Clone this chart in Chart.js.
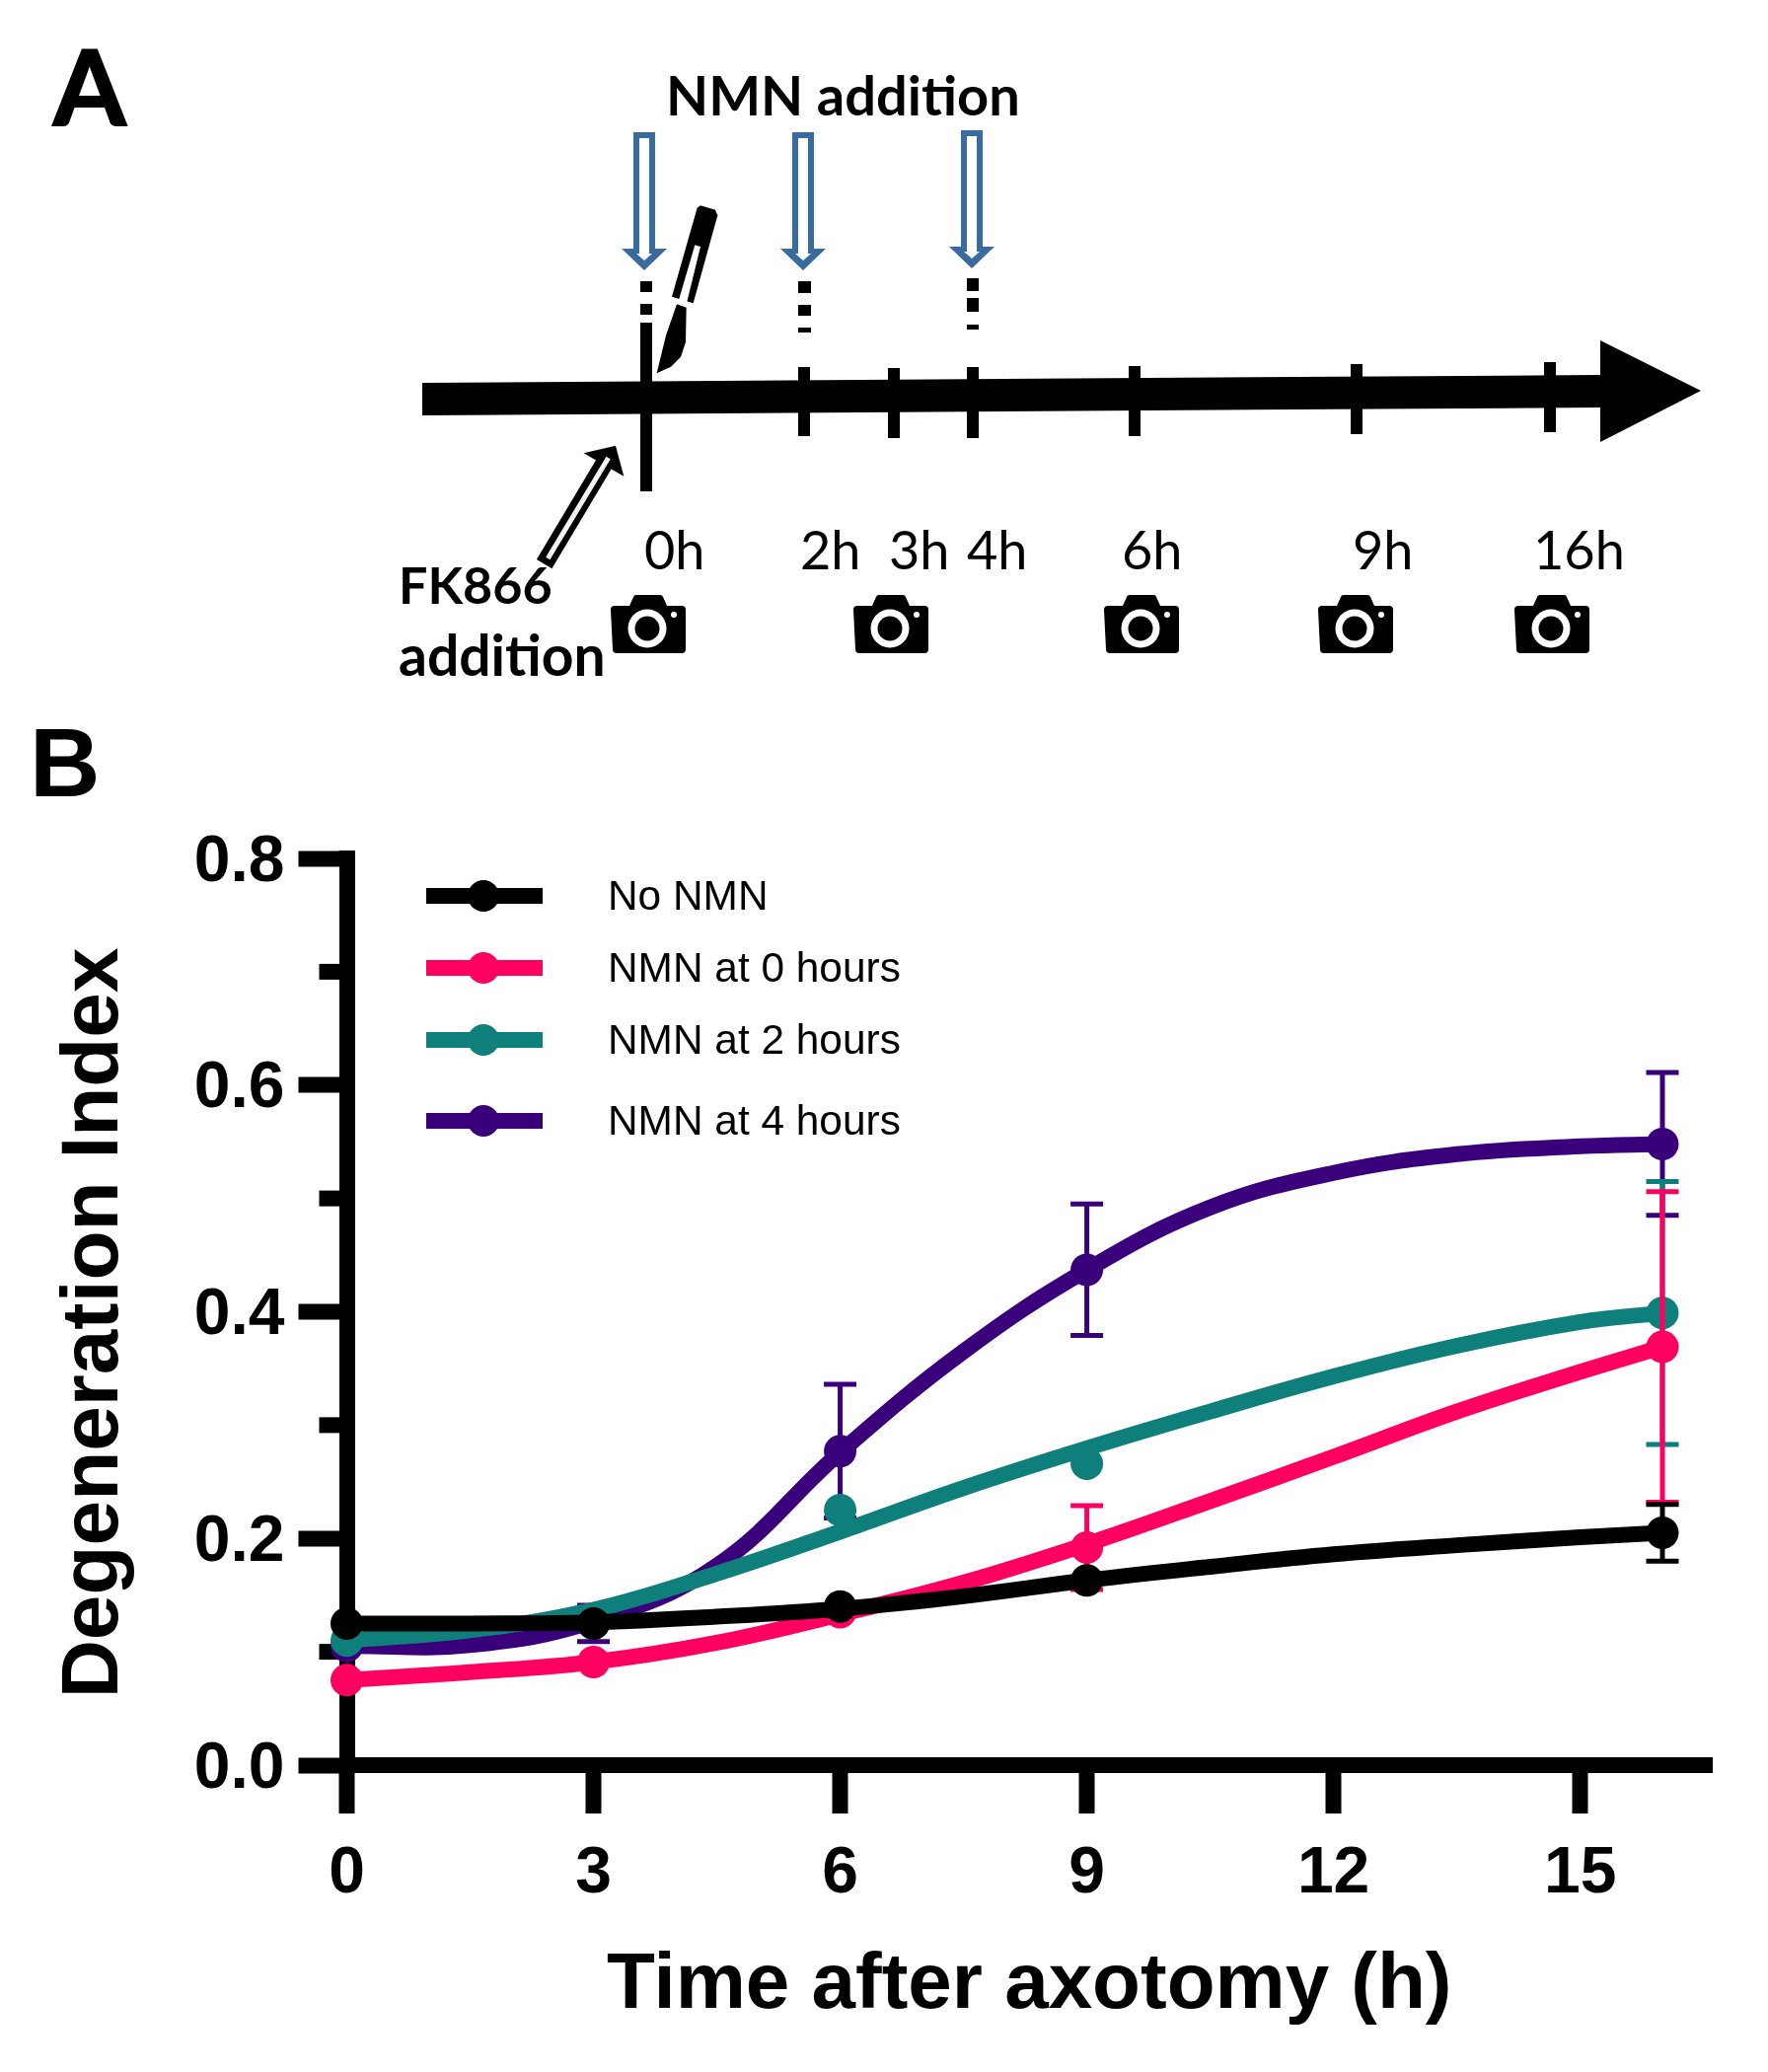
<!DOCTYPE html>
<html>
<head>
<meta charset="utf-8">
<title>Degeneration Index</title>
<script src="https://cdn.jsdelivr.net/npm/chart.js@4"></script>
<style>
  html, body { margin: 0; background: #fff; }
  #wrap { position: relative; width: 1792px; height: 2100px; overflow: hidden; }
  #chartCanvas, #panelA { position: absolute; left: 0; top: 0; }
  #panelA .lato { font-family: Lato, sans-serif; }
  #panelA .bold { font-weight: 700; }
  .legendRow { position: absolute; left: 432px; height: 0; }
  .legendRow i { position: absolute; left: 0; top: -8px; width: 118px; height: 16px; }
  .legendRow b { position: absolute; left: 42px; top: -16px; width: 32px; height: 32px; border-radius: 50%; }
  .legendRow span { position: absolute; left: 184px; top: -25px; font: 42.4px/50px "Liberation Sans", sans-serif; white-space: nowrap; color: #000; }
</style>
</head>
<body>
<div id="wrap">
  <canvas id="chartCanvas" width="1792" height="2100"></canvas>

  <svg id="panelA" width="1792" height="2100" viewBox="0 0 1792 2100">
    <defs>
      <g id="blueArrow">
        <polygon points="-11,134 11,134 11,252 23,252 0,274 -23,252 -11,252" fill="#3a6b9e"/>
        <polygon points="-5,140 5,140 5,257 8,257 0,264 -8,257 -5,257" fill="#fff"/>
      </g>
      <g id="camera">
        <path d="M-37,-20 a4,4 0 0 1 4,-4 h15 l4,-9 a3,3 0 0 1 3,-2 h24 a3,3 0 0 1 3,2 l4,9 h15 a4,4 0 0 1 4,4 v40 a4,4 0 0 1 -4,4 h-66 a4,4 0 0 1 -4,-4 z" fill="#000" transform="translate(0,6)"/>
        <circle cx="0" cy="5" r="19.5" fill="#fff"/>
        <circle cx="0" cy="5" r="12.5" fill="#000"/>
        <circle cx="27" cy="-9" r="3" fill="#fff"/>
      </g>
    </defs>

    <text x="54" y="127" class="lato bold" font-size="106" stroke="#000" stroke-width="2">A</text>
    <text x="675" y="117" class="lato bold" font-size="56">NMN addition</text>

    <use href="#blueArrow" x="653" y="0"/>
    <use href="#blueArrow" x="814" y="0"/>
    <use href="#blueArrow" x="985" y="-2"/>

    <!-- dashed drops under the NMN arrows -->
    <g fill="#000">
      <rect x="649" y="285" width="12" height="11"/>
      <rect x="649" y="308" width="12" height="11"/>
      <rect x="809" y="285" width="13" height="12"/>
      <rect x="809" y="309" width="13" height="11"/>
      <rect x="809" y="332" width="13" height="5"/>
      <rect x="980" y="282" width="12" height="13"/>
      <rect x="980" y="302" width="12" height="14"/>
      <rect x="980" y="329" width="12" height="5"/>
    </g>

    <!-- time line -->
    <polygon points="428,388 1622,380 1622,345 1724,396 1622,448 1622,413 428,421" fill="#000"/>
    <g fill="#000">
      <rect x="649" y="327" width="12" height="171"/>
      <rect x="809" y="372" width="12" height="70"/>
      <rect x="900" y="373" width="12" height="71"/>
      <rect x="980" y="372" width="12" height="72"/>
      <rect x="1144" y="371" width="12" height="71"/>
      <rect x="1369" y="369" width="12" height="71"/>
      <rect x="1565" y="367" width="12" height="71"/>
    </g>

    <!-- scalpel -->
    <g transform="translate(600 120) scale(0.3333)">
      <polygon points="320,272 330,265 375,278 382,295 308,562 243,542" fill="#000"/>
      <polygon points="313,385 330,390 288,562 264,552" fill="#fff"/>
      <polygon points="258,565 287,575 285,680 270,725 240,755 197,775 225,660" fill="#000"/>
    </g>

    <!-- FK866 arrow -->
    <g transform="translate(400 440) scale(0.3333)">
      <line x1="455" y1="395" x2="640" y2="85" stroke="#000" stroke-width="54"/>
      <polygon points="575,58 672,35 697,128" fill="#000"/>
      <line x1="466" y1="378" x2="650" y2="72" stroke="#f2f2f2" stroke-width="15"/>
    </g>

    <g class="lato" font-size="54" fill="#000">
      <text x="653" y="577">0h</text>
      <text x="811" y="577">2h</text>
      <text x="901" y="577">3h</text>
      <text x="980" y="577">4h</text>
      <text x="1137" y="577">6h</text>
      <text x="1371" y="577">9h</text>
      <text x="1554" y="577">16h</text>
    </g>
    <text x="404" y="612" class="lato bold" font-size="52">FK866</text>
    <text x="404" y="685" class="lato bold" font-size="57">addition</text>

    <use href="#camera" x="656" y="632"/>
    <use href="#camera" x="902" y="632"/>
    <use href="#camera" x="1156" y="632"/>
    <use href="#camera" x="1373" y="632"/>
    <use href="#camera" x="1572" y="632"/>

    <text x="30" y="807" font-family="Liberation Sans" font-weight="700" font-size="99">B</text>
  </svg>

  <div id="legend"></div>
</div>

<script>
const seriesNames = ["No NMN", "NMN at 0 hours", "NMN at 2 hours", "NMN at 4 hours"];
const seriesColors = ["#000000", "#ff0060", "#0f7f7b", "#3a007c"];

const xTickValues = [0, 3, 6, 9, 12, 15];
const yTickValues = [0, 0.2, 0.4, 0.6, 0.8];
const yMinorTicks = [0.1, 0.3, 0.5, 0.7];

// measured time points
const hours = [0, 3, 6, 9, 16];
const noNmnMean = [0.125, 0.125, 0.14, 0.163, 0.205];
const noNmnErr = [0.003, 0.003, 0.003, 0.003, 0.025];
const nmn0Mean = [0.075, 0.091, 0.135, 0.192, 0.369];
const nmn0Err = [0.003, 0.003, 0.003, 0.037, 0.137];
const nmn2Mean = [0.11, 0.125, 0.225, 0.266, 0.399];
const nmn2Err = [0.003, 0.003, 0.003, 0.003, 0.116];
const nmn4Mean = [0.105, 0.125, 0.277, 0.437, 0.548];
const nmn4Err = [0.003, 0.016, 0.059, 0.058, 0.063];

// fitted curves
const fitHours = [0, 1.5, 3, 4.5, 6, 7.5, 9, 10.5, 12, 13.5, 15, 16];
const noNmnFit = [0.125, 0.125, 0.126, 0.131, 0.138, 0.149, 0.163, 0.175, 0.186, 0.194, 0.201, 0.205];
const nmn0Fit = [0.075, 0.082, 0.091, 0.108, 0.133, 0.161, 0.195, 0.233, 0.272, 0.312, 0.347, 0.369];
const nmn2Fit = [0.11, 0.119, 0.137, 0.169, 0.206, 0.2445, 0.2795, 0.312, 0.343, 0.37, 0.391, 0.399];
const nmn4Fit = [0.105, 0.106, 0.127, 0.176, 0.276, 0.365, 0.437, 0.492, 0.5225, 0.539, 0.546, 0.548];

const means = [noNmnMean, nmn0Mean, nmn2Mean, nmn4Mean];
const errors = [noNmnErr, nmn0Err, nmn2Err, nmn4Err];
const fits = [noNmnFit, nmn0Fit, nmn2Fit, nmn4Fit];

function buildDatasets() {
  const datasets = [];
  // first series ends up on top, each one keeps its curve above its markers
  seriesNames.forEach((name, i) => {
    datasets.push({
      label: name + " fit",
      data: fitHours.map((h, k) => ({ x: h, y: fits[i][k] })),
      borderColor: seriesColors[i],
      borderWidth: 16,
      pointRadius: 0,
      showLine: true,
      tension: 0.4,
      clip: false,
      order: i * 2
    });
    datasets.push({
      label: name,
      data: hours.map((h, k) => ({ x: h, y: means[i][k] })),
      backgroundColor: seriesColors[i],
      borderColor: seriesColors[i],
      pointRadius: 16.5,
      pointBorderWidth: 0,
      showLine: false,
      clip: false,
      errors: errors[i],
      order: i * 2 + 1
    });
  });
  return datasets;
}

const errorBars = {
  id: "errorBars",
  beforeDatasetDraw(chart, args) {
    const ds = chart.data.datasets[args.index];
    if (!ds.errors) return;
    const ctx = chart.ctx;
    const xs = chart.scales.x;
    const ys = chart.scales.y;
    ctx.save();
    ctx.strokeStyle = ds.borderColor;
    ctx.lineWidth = 5;
    ds.data.forEach((p, k) => {
      const x = xs.getPixelForValue(p.x);
      const top = ys.getPixelForValue(p.y + ds.errors[k]);
      const bottom = ys.getPixelForValue(p.y - ds.errors[k]);
      const cap = ds.errors[k] > 0.01 ? 16.5 : 8;
      ctx.beginPath();
      ctx.moveTo(x, top);
      ctx.lineTo(x, bottom);
      ctx.moveTo(x - cap, top);
      ctx.lineTo(x + cap, top);
      ctx.moveTo(x - cap, bottom);
      ctx.lineTo(x + cap, bottom);
      ctx.stroke();
    });
    ctx.restore();
  }
};

// short ticks and the square top corner of the y axis
const axisExtras = {
  id: "axisExtras",
  beforeDatasetsDraw(chart) {
    const ctx = chart.ctx;
    const ys = chart.scales.y;
    const left = chart.chartArea.left;
    ctx.save();
    ctx.fillStyle = "#000";
    yMinorTicks.forEach(v => {
      ctx.fillRect(left - 28, ys.getPixelForValue(v) - 8, 28, 16);
    });
    ctx.fillRect(left - 8, chart.chartArea.top - 8, 16, 16);
    ctx.restore();
  }
};

function addLegend() {
  const box = document.getElementById("legend");
  const rowTops = [908, 981, 1054, 1136];
  seriesNames.forEach((name, i) => {
    const row = document.createElement("div");
    row.className = "legendRow";
    row.style.top = rowTops[i] + "px";
    row.innerHTML = `<i style="background:${seriesColors[i]}"></i><b style="background:${seriesColors[i]}"></b><span>${name}</span>`;
    box.appendChild(row);
  });
}

new Chart(document.getElementById("chartCanvas").getContext("2d"), {
  type: "scatter",
  data: { datasets: buildDatasets() },
  plugins: [errorBars, axisExtras],
  options: {
    responsive: false,
    animation: false,
    layout: { padding: { top: 870, right: 57, bottom: 0, left: 0 } },
    plugins: { legend: { display: false }, tooltip: { enabled: false } },
    scales: {
      x: {
        type: "linear",
        min: 0,
        max: 16.6,
        afterBuildTicks: scale => { scale.ticks = xTickValues.map(v => ({ value: v })); },
        afterFit: scale => { scale.height = 311; },
        border: { color: "#000", width: 16 },
        grid: { drawOnChartArea: false, color: "#000", tickColor: "#000", tickWidth: 16, tickLength: 49 },
        ticks: {
          color: "#000",
          font: { family: "Liberation Sans", weight: "bold", size: 66 },
          padding: 22,
          maxRotation: 0,
          autoSkip: false,
          includeBounds: false
        },
        title: {
          display: true,
          text: "Time after axotomy (h)",
          color: "#000",
          font: { family: "Liberation Sans", weight: "bold", size: 80 },
          padding: { top: 0, bottom: 39 }
        }
      },
      y: {
        min: 0,
        max: 0.8,
        afterBuildTicks: scale => { scale.ticks = yTickValues.map(v => ({ value: v })); },
        afterFit: scale => { scale.width = 351.5; },
        border: { color: "#000", width: 16 },
        grid: { drawOnChartArea: false, color: "#000", tickColor: "#000", tickWidth: 16, tickLength: 49 },
        ticks: {
          color: "#000",
          // blank first line with a small line height drops the label a few pixels
          font: { family: "Liberation Sans", weight: "bold", size: 66, lineHeight: "9px" },
          padding: 14,
          autoSkip: false,
          callback: v => ["", v.toFixed(1)]
        },
        title: {
          display: true,
          text: "Degeneration Index ",
          color: "#000",
          font: { family: "Liberation Sans", weight: "bold", size: 82 },
          padding: { top: 47, bottom: 0 }
        }
      }
    }
  }
});

addLegend();
</script>
</body>
</html>
